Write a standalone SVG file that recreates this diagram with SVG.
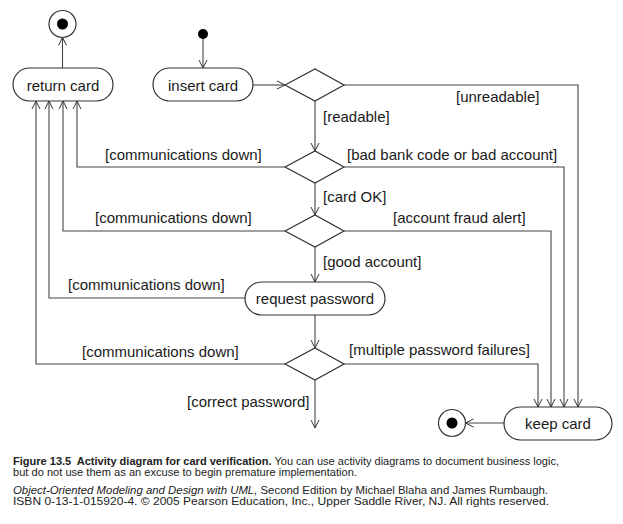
<svg xmlns="http://www.w3.org/2000/svg" width="623" height="524" viewBox="0 0 623 524">
<defs>
<marker id="arr" markerWidth="10" markerHeight="10" refX="9" refY="5" orient="auto" markerUnits="userSpaceOnUse">
<path d="M1,1 L9,5 L1,9" fill="none" stroke="#333" stroke-width="1"/>
</marker>
<style>
.node{fill:#fff;stroke:#333;stroke-width:1.2}
.edge{fill:none;stroke:#444;stroke-width:1.1;marker-end:url(#arr)}
.t{font-family:"Liberation Sans",Arial,sans-serif;font-size:15px;fill:#1a1a1a}
.c{font-family:"Liberation Sans",Arial,sans-serif;font-size:11.5px;fill:#222}
.mid{text-anchor:middle}
</style>
</defs>
<rect width="623" height="524" fill="#fff"/>

<g id="final-top">
<circle cx="62.5" cy="24" r="13.5" class="node"/>
<circle cx="62.5" cy="24" r="5.5" fill="#000"/>
</g>
<g id="start">
<circle cx="203" cy="34" r="5" fill="#000"/>
</g>
<g id="return-card">
<rect x="13" y="68" width="100" height="33" rx="16.5" class="node"/>
<text x="63" y="91" class="t mid">return card</text>
</g>
<g id="insert-card">
<rect x="153" y="68" width="100" height="33" rx="16.5" class="node"/>
<text x="203" y="91" class="t mid">insert card</text>
</g>
<g id="decision1"><polygon points="285,85 315,69 344,85 315,101" class="node"/></g>
<g id="decision2"><polygon points="285,167 315,151 344,167 315,183" class="node"/></g>
<g id="decision3"><polygon points="285,231 315,215 344,231 315,247" class="node"/></g>
<g id="request-password">
<rect x="245" y="282" width="140" height="33" rx="16.5" class="node"/>
<text x="315" y="304" class="t mid">request password</text>
</g>
<g id="decision4"><polygon points="285,364 315,348 344,364 315,380" class="node"/></g>
<g id="keep-card">
<rect x="504" y="407" width="108" height="33" rx="16.5" class="node"/>
<text x="558" y="429" class="t mid">keep card</text>
</g>
<g id="final-bottom">
<circle cx="452" cy="423" r="13.5" class="node"/>
<circle cx="452" cy="423" r="5.5" fill="#000"/>
</g>

<g id="connectors">
<path class="edge" d="M203,39 L203,68"/>
<path class="edge" d="M253,85 L285,85"/>
<path class="edge" d="M315,101 L315,151"/>
<path class="edge" d="M344,85 L578,85 L578,407"/>
<path class="edge" d="M344,167 L564,167 L564,407"/>
<path class="edge" d="M285,167 L77,167 L77,101"/>
<path class="edge" d="M315,183 L315,215"/>
<path class="edge" d="M344,231 L551,231 L551,407"/>
<path class="edge" d="M285,231 L63,231 L63,101"/>
<path class="edge" d="M315,247 L315,282"/>
<path class="edge" d="M245,298 L49,298 L49,101"/>
<path class="edge" d="M315,315 L315,348"/>
<path class="edge" d="M285,364 L36,364 L36,101"/>
<path class="edge" d="M344,364 L538,364 L538,407"/>
<path class="edge" d="M315,380 L315,428"/>
<path class="edge" d="M62.5,68 L62.5,37.5"/>
<path class="edge" d="M504,423 L465.5,423"/>
</g>

<g id="labels">
<text x="456" y="102" class="t">[unreadable]</text>
<text x="323" y="122" class="t">[readable]</text>
<text x="347" y="160" class="t">[bad bank code or bad account]</text>
<text x="105" y="160" class="t">[communications down]</text>
<text x="323" y="202" class="t">[card OK]</text>
<text x="393" y="223" class="t">[account fraud alert]</text>
<text x="95" y="223" class="t">[communications down]</text>
<text x="323" y="267" class="t">[good account]</text>
<text x="68" y="290" class="t">[communications down]</text>
<text x="349" y="355" class="t">[multiple password failures]</text>
<text x="82" y="357" class="t">[communications down]</text>
<text x="187" y="407" class="t">[correct password]</text>
</g>

<g id="caption">
<text x="13" y="465" class="c" textLength="546" lengthAdjust="spacingAndGlyphs"><tspan font-weight="bold">Figure 13.5</tspan><tspan font-weight="bold" dx="3"> Activity diagram for card verification.</tspan> You can use activity diagrams to document business logic,</text>
<text x="13" y="476" class="c" textLength="344" lengthAdjust="spacingAndGlyphs">but do not use them as an excuse to begin premature implementation.</text>
<text x="13" y="494" class="c" textLength="535" lengthAdjust="spacingAndGlyphs"><tspan font-style="italic">Object-Oriented Modeling and Design with UML,</tspan> Second Edition by Michael Blaha and James Rumbaugh.</text>
<text x="13" y="505" class="c" textLength="536" lengthAdjust="spacingAndGlyphs">ISBN 0-13-1-015920-4. © 2005 Pearson Education, Inc., Upper Saddle River, NJ. All rights reserved.</text>
</g>
</svg>
